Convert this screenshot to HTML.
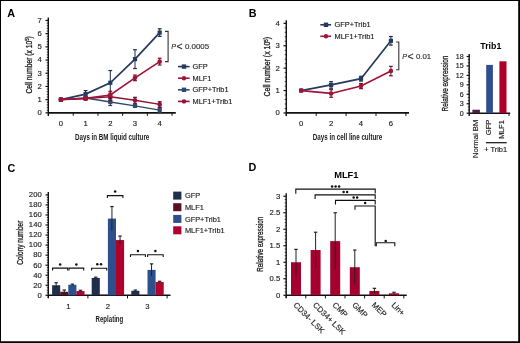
<!DOCTYPE html>
<html><head><meta charset="utf-8"><style>
html,body{margin:0;padding:0;background:#fff;width:520px;height:343px;overflow:hidden}
svg{display:block;font-family:"Liberation Sans",sans-serif;will-change:transform}
</style></head><body>
<svg width="520" height="343" viewBox="0 0 520 343">
<rect x="0" y="0" width="520" height="343" fill="#fff"/>
<rect x="0.5" y="0.5" width="518.5" height="341.5" fill="none" stroke="#000" stroke-width="1"/>
<line x1="519.2" y1="0" x2="519.2" y2="343" stroke="#000" stroke-width="1.6"/>
<line x1="0" y1="342.2" x2="520" y2="342.2" stroke="#000" stroke-width="1.6"/>
<text x="7.2" y="16.9" font-size="10.8" font-weight="bold" fill="#000">A</text>
<text x="248.7" y="16.6" font-size="10.8" font-weight="bold" fill="#000">B</text>
<text x="7.6" y="171.6" font-size="10.8" font-weight="bold" fill="#000">C</text>
<text x="248.4" y="171.2" font-size="10.8" font-weight="bold" fill="#000">D</text>
<line x1="48.3" y1="17.45" x2="48.3" y2="116" stroke="#111" stroke-width="1.4"/>
<line x1="45.5" y1="112.85" x2="48.3" y2="112.85" stroke="#111" stroke-width="1.2"/>
<line x1="45.5" y1="99.65" x2="48.3" y2="99.65" stroke="#111" stroke-width="1.2"/>
<line x1="45.5" y1="86.45" x2="48.3" y2="86.45" stroke="#111" stroke-width="1.2"/>
<line x1="45.5" y1="73.25" x2="48.3" y2="73.25" stroke="#111" stroke-width="1.2"/>
<line x1="45.5" y1="60.05" x2="48.3" y2="60.05" stroke="#111" stroke-width="1.2"/>
<line x1="45.5" y1="46.85" x2="48.3" y2="46.85" stroke="#111" stroke-width="1.2"/>
<line x1="45.5" y1="33.65" x2="48.3" y2="33.65" stroke="#111" stroke-width="1.2"/>
<line x1="45.5" y1="20.45" x2="48.3" y2="20.45" stroke="#111" stroke-width="1.2"/>
<line x1="46.7" y1="110.21" x2="48.3" y2="110.21" stroke="#111" stroke-width="0.8"/>
<line x1="46.7" y1="107.57" x2="48.3" y2="107.57" stroke="#111" stroke-width="0.8"/>
<line x1="46.7" y1="104.93" x2="48.3" y2="104.93" stroke="#111" stroke-width="0.8"/>
<line x1="46.7" y1="102.29" x2="48.3" y2="102.29" stroke="#111" stroke-width="0.8"/>
<line x1="46.7" y1="97.01" x2="48.3" y2="97.01" stroke="#111" stroke-width="0.8"/>
<line x1="46.7" y1="94.37" x2="48.3" y2="94.37" stroke="#111" stroke-width="0.8"/>
<line x1="46.7" y1="91.73" x2="48.3" y2="91.73" stroke="#111" stroke-width="0.8"/>
<line x1="46.7" y1="89.09" x2="48.3" y2="89.09" stroke="#111" stroke-width="0.8"/>
<line x1="46.7" y1="83.81" x2="48.3" y2="83.81" stroke="#111" stroke-width="0.8"/>
<line x1="46.7" y1="81.17" x2="48.3" y2="81.17" stroke="#111" stroke-width="0.8"/>
<line x1="46.7" y1="78.53" x2="48.3" y2="78.53" stroke="#111" stroke-width="0.8"/>
<line x1="46.7" y1="75.89" x2="48.3" y2="75.89" stroke="#111" stroke-width="0.8"/>
<line x1="46.7" y1="70.61" x2="48.3" y2="70.61" stroke="#111" stroke-width="0.8"/>
<line x1="46.7" y1="67.97" x2="48.3" y2="67.97" stroke="#111" stroke-width="0.8"/>
<line x1="46.7" y1="65.33" x2="48.3" y2="65.33" stroke="#111" stroke-width="0.8"/>
<line x1="46.7" y1="62.69" x2="48.3" y2="62.69" stroke="#111" stroke-width="0.8"/>
<line x1="46.7" y1="57.41" x2="48.3" y2="57.41" stroke="#111" stroke-width="0.8"/>
<line x1="46.7" y1="54.77" x2="48.3" y2="54.77" stroke="#111" stroke-width="0.8"/>
<line x1="46.7" y1="52.13" x2="48.3" y2="52.13" stroke="#111" stroke-width="0.8"/>
<line x1="46.7" y1="49.49" x2="48.3" y2="49.49" stroke="#111" stroke-width="0.8"/>
<line x1="46.7" y1="44.21" x2="48.3" y2="44.21" stroke="#111" stroke-width="0.8"/>
<line x1="46.7" y1="41.57" x2="48.3" y2="41.57" stroke="#111" stroke-width="0.8"/>
<line x1="46.7" y1="38.93" x2="48.3" y2="38.93" stroke="#111" stroke-width="0.8"/>
<line x1="46.7" y1="36.29" x2="48.3" y2="36.29" stroke="#111" stroke-width="0.8"/>
<line x1="46.7" y1="31.01" x2="48.3" y2="31.01" stroke="#111" stroke-width="0.8"/>
<line x1="46.7" y1="28.37" x2="48.3" y2="28.37" stroke="#111" stroke-width="0.8"/>
<line x1="46.7" y1="25.73" x2="48.3" y2="25.73" stroke="#111" stroke-width="0.8"/>
<line x1="46.7" y1="23.09" x2="48.3" y2="23.09" stroke="#111" stroke-width="0.8"/>
<line x1="48.3" y1="112.85" x2="175.8" y2="112.85" stroke="#111" stroke-width="1.7"/>
<line x1="48.55" y1="112.85" x2="48.55" y2="115.8" stroke="#111" stroke-width="1"/>
<line x1="73.25" y1="112.85" x2="73.25" y2="115.8" stroke="#111" stroke-width="1"/>
<line x1="97.95" y1="112.85" x2="97.95" y2="115.8" stroke="#111" stroke-width="1"/>
<line x1="122.65" y1="112.85" x2="122.65" y2="115.8" stroke="#111" stroke-width="1"/>
<line x1="147.35" y1="112.85" x2="147.35" y2="115.8" stroke="#111" stroke-width="1"/>
<line x1="172.05" y1="112.85" x2="172.05" y2="115.8" stroke="#111" stroke-width="1"/>
<text x="41.9" y="115.2" font-size="7.7" text-anchor="end" fill="#1c1c1c" stroke="#1c1c1c" stroke-width="0.15">0</text>
<text x="41.9" y="102" font-size="7.7" text-anchor="end" fill="#1c1c1c" stroke="#1c1c1c" stroke-width="0.15">1</text>
<text x="41.9" y="88.8" font-size="7.7" text-anchor="end" fill="#1c1c1c" stroke="#1c1c1c" stroke-width="0.15">2</text>
<text x="41.9" y="75.6" font-size="7.7" text-anchor="end" fill="#1c1c1c" stroke="#1c1c1c" stroke-width="0.15">3</text>
<text x="41.9" y="62.4" font-size="7.7" text-anchor="end" fill="#1c1c1c" stroke="#1c1c1c" stroke-width="0.15">4</text>
<text x="41.9" y="49.2" font-size="7.7" text-anchor="end" fill="#1c1c1c" stroke="#1c1c1c" stroke-width="0.15">5</text>
<text x="41.9" y="36" font-size="7.7" text-anchor="end" fill="#1c1c1c" stroke="#1c1c1c" stroke-width="0.15">6</text>
<text x="41.9" y="22.8" font-size="7.7" text-anchor="end" fill="#1c1c1c" stroke="#1c1c1c" stroke-width="0.15">7</text>
<text x="60.9" y="126" font-size="7.7" text-anchor="middle" fill="#1c1c1c" stroke="#1c1c1c" stroke-width="0.15">0</text>
<text x="85.6" y="126" font-size="7.7" text-anchor="middle" fill="#1c1c1c" stroke="#1c1c1c" stroke-width="0.15">1</text>
<text x="110.3" y="126" font-size="7.7" text-anchor="middle" fill="#1c1c1c" stroke="#1c1c1c" stroke-width="0.15">2</text>
<text x="135" y="126" font-size="7.7" text-anchor="middle" fill="#1c1c1c" stroke="#1c1c1c" stroke-width="0.15">3</text>
<text x="159.7" y="126" font-size="7.7" text-anchor="middle" fill="#1c1c1c" stroke="#1c1c1c" stroke-width="0.15">4</text>
<text x="75" y="139.6" font-size="8.8" font-weight="bold" fill="#1a1a1a" textLength="74.3" lengthAdjust="spacingAndGlyphs">Days in BM liquid culture</text>
<text transform="translate(32,93.5) rotate(-90)" x="0" y="0" font-size="8.6" font-weight="normal" fill="#1a1a1a" stroke="#1a1a1a" stroke-width="0.3" textLength="57.2" lengthAdjust="spacingAndGlyphs">Cell number (x 10<tspan dy="-2.7" font-size="5.4">5</tspan><tspan dy="2.7">)</tspan></text>
<polyline points="60.9,99.65 85.6,98.07 110.3,102.03 135,105.85 159.7,110.08" fill="none" stroke="#2e4a70" stroke-width="1.4" stroke-linejoin="miter"/>
<rect x="58.8" y="97.55" width="4.2" height="4.2" fill="#2e4a70"/>
<line x1="85.6" y1="96.77" x2="85.6" y2="99.37" stroke="#24395a" stroke-width="1"/>
<line x1="83.7" y1="96.77" x2="87.5" y2="96.77" stroke="#24395a" stroke-width="1.2"/>
<line x1="83.7" y1="99.37" x2="87.5" y2="99.37" stroke="#24395a" stroke-width="1.2"/>
<rect x="83.5" y="95.97" width="4.2" height="4.2" fill="#2e4a70"/>
<line x1="110.3" y1="98.53" x2="110.3" y2="105.53" stroke="#24395a" stroke-width="1"/>
<line x1="108.4" y1="98.53" x2="112.2" y2="98.53" stroke="#24395a" stroke-width="1.2"/>
<line x1="108.4" y1="105.53" x2="112.2" y2="105.53" stroke="#24395a" stroke-width="1.2"/>
<rect x="108.2" y="99.93" width="4.2" height="4.2" fill="#2e4a70"/>
<line x1="135" y1="104.55" x2="135" y2="107.15" stroke="#24395a" stroke-width="1"/>
<line x1="133.1" y1="104.55" x2="136.9" y2="104.55" stroke="#24395a" stroke-width="1.2"/>
<line x1="133.1" y1="107.15" x2="136.9" y2="107.15" stroke="#24395a" stroke-width="1.2"/>
<rect x="132.9" y="103.75" width="4.2" height="4.2" fill="#2e4a70"/>
<line x1="159.7" y1="107.58" x2="159.7" y2="112.58" stroke="#24395a" stroke-width="1"/>
<line x1="157.8" y1="107.58" x2="161.6" y2="107.58" stroke="#24395a" stroke-width="1.2"/>
<line x1="157.8" y1="112.58" x2="161.6" y2="112.58" stroke="#24395a" stroke-width="1.2"/>
<rect x="157.6" y="107.98" width="4.2" height="4.2" fill="#2e4a70"/>
<polyline points="60.9,99.65 85.6,94.11 110.3,82.75 135,59.13 159.7,32.59" fill="none" stroke="#263a60" stroke-width="1.7" stroke-linejoin="miter"/>
<rect x="58.8" y="97.55" width="4.2" height="4.2" fill="#263a60"/>
<line x1="85.6" y1="90.61" x2="85.6" y2="97.61" stroke="#1e2c48" stroke-width="1"/>
<line x1="83.7" y1="90.61" x2="87.5" y2="90.61" stroke="#1e2c48" stroke-width="1.2"/>
<line x1="83.7" y1="97.61" x2="87.5" y2="97.61" stroke="#1e2c48" stroke-width="1.2"/>
<rect x="83.5" y="92.01" width="4.2" height="4.2" fill="#263a60"/>
<line x1="110.3" y1="70.55" x2="110.3" y2="94.95" stroke="#1e2c48" stroke-width="1"/>
<line x1="108.4" y1="70.55" x2="112.2" y2="70.55" stroke="#1e2c48" stroke-width="1.2"/>
<line x1="108.4" y1="94.95" x2="112.2" y2="94.95" stroke="#1e2c48" stroke-width="1.2"/>
<rect x="108.2" y="80.65" width="4.2" height="4.2" fill="#263a60"/>
<line x1="135" y1="49.73" x2="135" y2="68.53" stroke="#1e2c48" stroke-width="1"/>
<line x1="133.1" y1="49.73" x2="136.9" y2="49.73" stroke="#1e2c48" stroke-width="1.2"/>
<line x1="133.1" y1="68.53" x2="136.9" y2="68.53" stroke="#1e2c48" stroke-width="1.2"/>
<rect x="132.9" y="57.03" width="4.2" height="4.2" fill="#263a60"/>
<line x1="159.7" y1="28.79" x2="159.7" y2="36.39" stroke="#1e2c48" stroke-width="1"/>
<line x1="157.8" y1="28.79" x2="161.6" y2="28.79" stroke="#1e2c48" stroke-width="1.2"/>
<line x1="157.8" y1="36.39" x2="161.6" y2="36.39" stroke="#1e2c48" stroke-width="1.2"/>
<rect x="157.6" y="30.49" width="4.2" height="4.2" fill="#263a60"/>
<polyline points="60.9,99.65 85.6,98.59 110.3,96.75 135,100.31 159.7,104.4" fill="none" stroke="#901234" stroke-width="1.4" stroke-linejoin="miter"/>
<circle cx="60.9" cy="99.65" r="2.3" fill="#901234"/>
<line x1="85.6" y1="97.29" x2="85.6" y2="99.89" stroke="#650d26" stroke-width="1"/>
<line x1="83.7" y1="97.29" x2="87.5" y2="97.29" stroke="#650d26" stroke-width="1.2"/>
<line x1="83.7" y1="99.89" x2="87.5" y2="99.89" stroke="#650d26" stroke-width="1.2"/>
<circle cx="85.6" cy="98.59" r="2.3" fill="#901234"/>
<line x1="110.3" y1="93.25" x2="110.3" y2="100.25" stroke="#650d26" stroke-width="1"/>
<line x1="108.4" y1="93.25" x2="112.2" y2="93.25" stroke="#650d26" stroke-width="1.2"/>
<line x1="108.4" y1="100.25" x2="112.2" y2="100.25" stroke="#650d26" stroke-width="1.2"/>
<circle cx="110.3" cy="96.75" r="2.3" fill="#901234"/>
<line x1="135" y1="97.31" x2="135" y2="103.31" stroke="#650d26" stroke-width="1"/>
<line x1="133.1" y1="97.31" x2="136.9" y2="97.31" stroke="#650d26" stroke-width="1.2"/>
<line x1="133.1" y1="103.31" x2="136.9" y2="103.31" stroke="#650d26" stroke-width="1.2"/>
<circle cx="135" cy="100.31" r="2.3" fill="#901234"/>
<line x1="159.7" y1="101.7" x2="159.7" y2="107.1" stroke="#650d26" stroke-width="1"/>
<line x1="157.8" y1="101.7" x2="161.6" y2="101.7" stroke="#650d26" stroke-width="1.2"/>
<line x1="157.8" y1="107.1" x2="161.6" y2="107.1" stroke="#650d26" stroke-width="1.2"/>
<circle cx="159.7" cy="104.4" r="2.3" fill="#901234"/>
<polyline points="60.9,99.65 85.6,98.33 110.3,95.03 135,77.87 159.7,61.63" fill="none" stroke="#a01438" stroke-width="1.7" stroke-linejoin="miter"/>
<circle cx="60.9" cy="99.65" r="2.3" fill="#a01438"/>
<line x1="85.6" y1="97.03" x2="85.6" y2="99.63" stroke="#6e0f2a" stroke-width="1"/>
<line x1="83.7" y1="97.03" x2="87.5" y2="97.03" stroke="#6e0f2a" stroke-width="1.2"/>
<line x1="83.7" y1="99.63" x2="87.5" y2="99.63" stroke="#6e0f2a" stroke-width="1.2"/>
<circle cx="85.6" cy="98.33" r="2.3" fill="#a01438"/>
<line x1="110.3" y1="91.23" x2="110.3" y2="98.83" stroke="#6e0f2a" stroke-width="1"/>
<line x1="108.4" y1="91.23" x2="112.2" y2="91.23" stroke="#6e0f2a" stroke-width="1.2"/>
<line x1="108.4" y1="98.83" x2="112.2" y2="98.83" stroke="#6e0f2a" stroke-width="1.2"/>
<circle cx="110.3" cy="95.03" r="2.3" fill="#a01438"/>
<line x1="135" y1="75.07" x2="135" y2="80.67" stroke="#6e0f2a" stroke-width="1"/>
<line x1="133.1" y1="75.07" x2="136.9" y2="75.07" stroke="#6e0f2a" stroke-width="1.2"/>
<line x1="133.1" y1="80.67" x2="136.9" y2="80.67" stroke="#6e0f2a" stroke-width="1.2"/>
<circle cx="135" cy="77.87" r="2.3" fill="#a01438"/>
<line x1="159.7" y1="58.23" x2="159.7" y2="65.03" stroke="#6e0f2a" stroke-width="1"/>
<line x1="157.8" y1="58.23" x2="161.6" y2="58.23" stroke="#6e0f2a" stroke-width="1.2"/>
<line x1="157.8" y1="65.03" x2="161.6" y2="65.03" stroke="#6e0f2a" stroke-width="1.2"/>
<circle cx="159.7" cy="61.63" r="2.3" fill="#a01438"/>
<polyline points="165,31.4 168.1,31.4 168.1,61.6 165,61.6" fill="none" stroke="#333" stroke-width="1.1" stroke-linejoin="miter"/>
<text x="171.3" y="48.9" font-size="7.2" font-style="italic" fill="#333" stroke="#333" stroke-width="0.15">P</text>
<text x="176.6" y="50.3" font-size="10.4" fill="#333" stroke="#333" stroke-width="0.15">&lt;</text>
<text x="184.9" y="48.9" font-size="7" textLength="24.3" lengthAdjust="spacingAndGlyphs" fill="#333" stroke="#333" stroke-width="0.15">0.0005</text>
<line x1="178" y1="66.6" x2="189.6" y2="66.6" stroke="#263a60" stroke-width="1.6"/>
<rect x="181.8" y="64.4" width="4.4" height="4.4" fill="#263a60"/>
<text x="192.5" y="69.2" font-size="7.4" fill="#1c1c1c" stroke="#1c1c1c" stroke-width="0.15">GFP</text>
<line x1="178" y1="78.2" x2="189.6" y2="78.2" stroke="#a01438" stroke-width="1.6"/>
<circle cx="184" cy="78.2" r="2.2" fill="#a01438"/>
<text x="192.5" y="80.8" font-size="7.4" fill="#1c1c1c" stroke="#1c1c1c" stroke-width="0.15">MLF1</text>
<line x1="178" y1="89.8" x2="189.6" y2="89.8" stroke="#2e4a70" stroke-width="1.6"/>
<rect x="181.8" y="87.6" width="4.4" height="4.4" fill="#2e4a70"/>
<text x="192.5" y="92.4" font-size="7.4" fill="#1c1c1c" stroke="#1c1c1c" stroke-width="0.15">GFP+Trib1</text>
<line x1="178" y1="101.4" x2="189.6" y2="101.4" stroke="#901234" stroke-width="1.6"/>
<circle cx="184" cy="101.4" r="2.2" fill="#901234"/>
<text x="192.5" y="104" font-size="7.4" fill="#1c1c1c" stroke="#1c1c1c" stroke-width="0.15">MLF1+Trib1</text>
<line x1="286.3" y1="20.35" x2="286.3" y2="116" stroke="#111" stroke-width="1.4"/>
<line x1="283.5" y1="112.95" x2="286.3" y2="112.95" stroke="#111" stroke-width="1.2"/>
<line x1="283.5" y1="90.55" x2="286.3" y2="90.55" stroke="#111" stroke-width="1.2"/>
<line x1="283.5" y1="68.15" x2="286.3" y2="68.15" stroke="#111" stroke-width="1.2"/>
<line x1="283.5" y1="45.75" x2="286.3" y2="45.75" stroke="#111" stroke-width="1.2"/>
<line x1="283.5" y1="23.35" x2="286.3" y2="23.35" stroke="#111" stroke-width="1.2"/>
<line x1="284.7" y1="108.47" x2="286.3" y2="108.47" stroke="#111" stroke-width="0.8"/>
<line x1="284.7" y1="103.99" x2="286.3" y2="103.99" stroke="#111" stroke-width="0.8"/>
<line x1="284.7" y1="99.51" x2="286.3" y2="99.51" stroke="#111" stroke-width="0.8"/>
<line x1="284.7" y1="95.03" x2="286.3" y2="95.03" stroke="#111" stroke-width="0.8"/>
<line x1="284.7" y1="86.07" x2="286.3" y2="86.07" stroke="#111" stroke-width="0.8"/>
<line x1="284.7" y1="81.59" x2="286.3" y2="81.59" stroke="#111" stroke-width="0.8"/>
<line x1="284.7" y1="77.11" x2="286.3" y2="77.11" stroke="#111" stroke-width="0.8"/>
<line x1="284.7" y1="72.63" x2="286.3" y2="72.63" stroke="#111" stroke-width="0.8"/>
<line x1="284.7" y1="63.67" x2="286.3" y2="63.67" stroke="#111" stroke-width="0.8"/>
<line x1="284.7" y1="59.19" x2="286.3" y2="59.19" stroke="#111" stroke-width="0.8"/>
<line x1="284.7" y1="54.71" x2="286.3" y2="54.71" stroke="#111" stroke-width="0.8"/>
<line x1="284.7" y1="50.23" x2="286.3" y2="50.23" stroke="#111" stroke-width="0.8"/>
<line x1="284.7" y1="41.27" x2="286.3" y2="41.27" stroke="#111" stroke-width="0.8"/>
<line x1="284.7" y1="36.79" x2="286.3" y2="36.79" stroke="#111" stroke-width="0.8"/>
<line x1="284.7" y1="32.31" x2="286.3" y2="32.31" stroke="#111" stroke-width="0.8"/>
<line x1="284.7" y1="27.83" x2="286.3" y2="27.83" stroke="#111" stroke-width="0.8"/>
<line x1="286.3" y1="112.95" x2="409" y2="112.95" stroke="#111" stroke-width="1.7"/>
<line x1="286.3" y1="112.95" x2="286.3" y2="116" stroke="#111" stroke-width="1"/>
<line x1="316.2" y1="112.95" x2="316.2" y2="116" stroke="#111" stroke-width="1"/>
<line x1="346.1" y1="112.95" x2="346.1" y2="116" stroke="#111" stroke-width="1"/>
<line x1="376" y1="112.95" x2="376" y2="116" stroke="#111" stroke-width="1"/>
<line x1="405.9" y1="112.95" x2="405.9" y2="116" stroke="#111" stroke-width="1"/>
<text x="279.9" y="115.3" font-size="7.7" text-anchor="end" fill="#1c1c1c" stroke="#1c1c1c" stroke-width="0.15">0</text>
<text x="279.9" y="92.9" font-size="7.7" text-anchor="end" fill="#1c1c1c" stroke="#1c1c1c" stroke-width="0.15">1</text>
<text x="279.9" y="70.5" font-size="7.7" text-anchor="end" fill="#1c1c1c" stroke="#1c1c1c" stroke-width="0.15">2</text>
<text x="279.9" y="48.1" font-size="7.7" text-anchor="end" fill="#1c1c1c" stroke="#1c1c1c" stroke-width="0.15">3</text>
<text x="279.9" y="25.7" font-size="7.7" text-anchor="end" fill="#1c1c1c" stroke="#1c1c1c" stroke-width="0.15">4</text>
<text x="301.2" y="126" font-size="7.7" text-anchor="middle" fill="#1c1c1c" stroke="#1c1c1c" stroke-width="0.15">0</text>
<text x="331.1" y="126" font-size="7.7" text-anchor="middle" fill="#1c1c1c" stroke="#1c1c1c" stroke-width="0.15">2</text>
<text x="361" y="126" font-size="7.7" text-anchor="middle" fill="#1c1c1c" stroke="#1c1c1c" stroke-width="0.15">4</text>
<text x="390.9" y="126" font-size="7.7" text-anchor="middle" fill="#1c1c1c" stroke="#1c1c1c" stroke-width="0.15">6</text>
<text x="312.8" y="140" font-size="8.8" font-weight="bold" fill="#1a1a1a" textLength="69.4" lengthAdjust="spacingAndGlyphs">Days in cell line culture</text>
<text transform="translate(270.2,96.4) rotate(-90)" x="0" y="0" font-size="8.6" font-weight="normal" fill="#1a1a1a" stroke="#1a1a1a" stroke-width="0.3" textLength="59.4" lengthAdjust="spacingAndGlyphs">Cell number (x 10<tspan dy="-2.7" font-size="5.4">5</tspan><tspan dy="2.7">)</tspan></text>
<polyline points="301.2,90.55 331.1,84.95 361,78.68 390.9,40.82" fill="none" stroke="#263a60" stroke-width="1.7" stroke-linejoin="miter"/>
<rect x="299.1" y="88.45" width="4.2" height="4.2" fill="#263a60"/>
<line x1="331.1" y1="81.65" x2="331.1" y2="88.25" stroke="#1e2c48" stroke-width="1"/>
<line x1="329.2" y1="81.65" x2="333" y2="81.65" stroke="#1e2c48" stroke-width="1.2"/>
<line x1="329.2" y1="88.25" x2="333" y2="88.25" stroke="#1e2c48" stroke-width="1.2"/>
<rect x="329" y="82.85" width="4.2" height="4.2" fill="#263a60"/>
<line x1="361" y1="76.28" x2="361" y2="81.08" stroke="#1e2c48" stroke-width="1"/>
<line x1="359.1" y1="76.28" x2="362.9" y2="76.28" stroke="#1e2c48" stroke-width="1.2"/>
<line x1="359.1" y1="81.08" x2="362.9" y2="81.08" stroke="#1e2c48" stroke-width="1.2"/>
<rect x="358.9" y="76.58" width="4.2" height="4.2" fill="#263a60"/>
<line x1="390.9" y1="36.52" x2="390.9" y2="45.12" stroke="#1e2c48" stroke-width="1"/>
<line x1="389" y1="36.52" x2="392.8" y2="36.52" stroke="#1e2c48" stroke-width="1.2"/>
<line x1="389" y1="45.12" x2="392.8" y2="45.12" stroke="#1e2c48" stroke-width="1.2"/>
<rect x="388.8" y="38.72" width="4.2" height="4.2" fill="#263a60"/>
<polyline points="301.2,90.55 331.1,93.46 361,86.07 390.9,71.06" fill="none" stroke="#a01438" stroke-width="1.7" stroke-linejoin="miter"/>
<circle cx="301.2" cy="90.55" r="2.3" fill="#a01438"/>
<line x1="331.1" y1="89.66" x2="331.1" y2="97.26" stroke="#6e0f2a" stroke-width="1"/>
<line x1="329.2" y1="89.66" x2="333" y2="89.66" stroke="#6e0f2a" stroke-width="1.2"/>
<line x1="329.2" y1="97.26" x2="333" y2="97.26" stroke="#6e0f2a" stroke-width="1.2"/>
<circle cx="331.1" cy="93.46" r="2.3" fill="#a01438"/>
<line x1="361" y1="83.47" x2="361" y2="88.67" stroke="#6e0f2a" stroke-width="1"/>
<line x1="359.1" y1="83.47" x2="362.9" y2="83.47" stroke="#6e0f2a" stroke-width="1.2"/>
<line x1="359.1" y1="88.67" x2="362.9" y2="88.67" stroke="#6e0f2a" stroke-width="1.2"/>
<circle cx="361" cy="86.07" r="2.3" fill="#a01438"/>
<line x1="390.9" y1="66.36" x2="390.9" y2="75.76" stroke="#6e0f2a" stroke-width="1"/>
<line x1="389" y1="66.36" x2="392.8" y2="66.36" stroke="#6e0f2a" stroke-width="1.2"/>
<line x1="389" y1="75.76" x2="392.8" y2="75.76" stroke="#6e0f2a" stroke-width="1.2"/>
<circle cx="390.9" cy="71.06" r="2.3" fill="#a01438"/>
<polyline points="396.1,42 398.8,42 398.8,69.7 396.1,69.7" fill="none" stroke="#333" stroke-width="1.1" stroke-linejoin="miter"/>
<text x="402.3" y="58.5" font-size="7.2" font-style="italic" fill="#333" stroke="#333" stroke-width="0.15">P</text>
<text x="407.6" y="59.9" font-size="10.4" fill="#333" stroke="#333" stroke-width="0.15">&lt;</text>
<text x="415.9" y="58.5" font-size="7" textLength="15.3" lengthAdjust="spacingAndGlyphs" fill="#333" stroke="#333" stroke-width="0.15">0.01</text>
<line x1="320.3" y1="24.8" x2="331.1" y2="24.8" stroke="#263a60" stroke-width="1.6"/>
<rect x="323.8" y="22.6" width="4.4" height="4.4" fill="#263a60"/>
<text x="334.6" y="27.4" font-size="7.4" fill="#1c1c1c" stroke="#1c1c1c" stroke-width="0.15">GFP+Trib1</text>
<line x1="320.3" y1="36.3" x2="331.1" y2="36.3" stroke="#a01438" stroke-width="1.6"/>
<circle cx="326" cy="36.3" r="2.2" fill="#a01438"/>
<text x="334.6" y="38.9" font-size="7.4" fill="#1c1c1c" stroke="#1c1c1c" stroke-width="0.15">MLF1+Trib1</text>
<line x1="469.2" y1="53.9" x2="469.2" y2="116" stroke="#111" stroke-width="1.4"/>
<line x1="466.6" y1="113.2" x2="469.2" y2="113.2" stroke="#111" stroke-width="1.2"/>
<line x1="466.6" y1="103.75" x2="469.2" y2="103.75" stroke="#111" stroke-width="1.2"/>
<line x1="466.6" y1="94.3" x2="469.2" y2="94.3" stroke="#111" stroke-width="1.2"/>
<line x1="466.6" y1="84.85" x2="469.2" y2="84.85" stroke="#111" stroke-width="1.2"/>
<line x1="466.6" y1="75.4" x2="469.2" y2="75.4" stroke="#111" stroke-width="1.2"/>
<line x1="466.6" y1="65.95" x2="469.2" y2="65.95" stroke="#111" stroke-width="1.2"/>
<line x1="466.6" y1="56.5" x2="469.2" y2="56.5" stroke="#111" stroke-width="1.2"/>
<line x1="467.8" y1="110.05" x2="469.2" y2="110.05" stroke="#111" stroke-width="0.8"/>
<line x1="467.8" y1="106.9" x2="469.2" y2="106.9" stroke="#111" stroke-width="0.8"/>
<line x1="467.8" y1="100.6" x2="469.2" y2="100.6" stroke="#111" stroke-width="0.8"/>
<line x1="467.8" y1="97.45" x2="469.2" y2="97.45" stroke="#111" stroke-width="0.8"/>
<line x1="467.8" y1="91.15" x2="469.2" y2="91.15" stroke="#111" stroke-width="0.8"/>
<line x1="467.8" y1="88" x2="469.2" y2="88" stroke="#111" stroke-width="0.8"/>
<line x1="467.8" y1="81.7" x2="469.2" y2="81.7" stroke="#111" stroke-width="0.8"/>
<line x1="467.8" y1="78.55" x2="469.2" y2="78.55" stroke="#111" stroke-width="0.8"/>
<line x1="467.8" y1="72.25" x2="469.2" y2="72.25" stroke="#111" stroke-width="0.8"/>
<line x1="467.8" y1="69.1" x2="469.2" y2="69.1" stroke="#111" stroke-width="0.8"/>
<line x1="467.8" y1="62.8" x2="469.2" y2="62.8" stroke="#111" stroke-width="0.8"/>
<line x1="467.8" y1="59.65" x2="469.2" y2="59.65" stroke="#111" stroke-width="0.8"/>
<line x1="469.2" y1="113.2" x2="510.2" y2="113.2" stroke="#111" stroke-width="1.6"/>
<line x1="509" y1="113.2" x2="509" y2="116" stroke="#111" stroke-width="1"/>
<text x="463.6" y="115.7" font-size="7.1" text-anchor="end" fill="#1c1c1c" stroke="#1c1c1c" stroke-width="0.15">0</text>
<text x="463.6" y="106.25" font-size="7.1" text-anchor="end" fill="#1c1c1c" stroke="#1c1c1c" stroke-width="0.15">3</text>
<text x="463.6" y="96.8" font-size="7.1" text-anchor="end" fill="#1c1c1c" stroke="#1c1c1c" stroke-width="0.15">6</text>
<text x="463.6" y="87.35" font-size="7.1" text-anchor="end" fill="#1c1c1c" stroke="#1c1c1c" stroke-width="0.15">9</text>
<text x="463.6" y="77.9" font-size="7.1" text-anchor="end" fill="#1c1c1c" stroke="#1c1c1c" stroke-width="0.15">12</text>
<text x="463.6" y="68.45" font-size="7.1" text-anchor="end" fill="#1c1c1c" stroke="#1c1c1c" stroke-width="0.15">15</text>
<text x="463.6" y="59" font-size="7.1" text-anchor="end" fill="#1c1c1c" stroke="#1c1c1c" stroke-width="0.15">18</text>
<rect x="472.4" y="109.73" width="7.5" height="3.47" fill="#4e1d48"/>
<rect x="486.2" y="64.9" width="6.7" height="48.3" fill="#2d508d"/>
<rect x="499.4" y="61.3" width="7.1" height="51.9" fill="#b0002a"/>
<text x="480.3" y="48.6" font-size="8.5" font-weight="bold" textLength="21" lengthAdjust="spacingAndGlyphs" fill="#000">Trib1</text>
<text transform="translate(448.3,111.4) rotate(-90)" x="0" y="0" font-size="8.6" font-weight="normal" fill="#1a1a1a" stroke="#1a1a1a" stroke-width="0.3" textLength="55.8" lengthAdjust="spacingAndGlyphs">Relative expression</text>
<text transform="translate(477.6,119.7) rotate(-90)" x="0" y="0" font-size="7.1" text-anchor="end" textLength="38.3" lengthAdjust="spacingAndGlyphs" fill="#1c1c1c" stroke="#1c1c1c" stroke-width="0.15">Normal BM</text>
<text transform="translate(491.2,119.7) rotate(-90)" x="0" y="0" font-size="7.1" text-anchor="end" textLength="15.5" lengthAdjust="spacingAndGlyphs" fill="#1c1c1c" stroke="#1c1c1c" stroke-width="0.15">GFP</text>
<text transform="translate(504.3,120.3) rotate(-90)" x="0" y="0" font-size="7.1" text-anchor="end" textLength="18.4" lengthAdjust="spacingAndGlyphs" fill="#1c1c1c" stroke="#1c1c1c" stroke-width="0.15">MLF1</text>
<line x1="485.9" y1="142.7" x2="506.7" y2="142.7" stroke="#111" stroke-width="1.2"/>
<text x="484.2" y="152.3" font-size="7.1" textLength="22.9" lengthAdjust="spacingAndGlyphs" fill="#1c1c1c" stroke="#1c1c1c" stroke-width="0.15">+ Trib1</text>
<line x1="48.3" y1="191.9" x2="48.3" y2="298" stroke="#111" stroke-width="1.4"/>
<line x1="45.5" y1="295.3" x2="48.3" y2="295.3" stroke="#111" stroke-width="1.2"/>
<line x1="45.5" y1="285.26" x2="48.3" y2="285.26" stroke="#111" stroke-width="1.2"/>
<line x1="45.5" y1="275.22" x2="48.3" y2="275.22" stroke="#111" stroke-width="1.2"/>
<line x1="45.5" y1="265.18" x2="48.3" y2="265.18" stroke="#111" stroke-width="1.2"/>
<line x1="45.5" y1="255.14" x2="48.3" y2="255.14" stroke="#111" stroke-width="1.2"/>
<line x1="45.5" y1="245.1" x2="48.3" y2="245.1" stroke="#111" stroke-width="1.2"/>
<line x1="45.5" y1="235.06" x2="48.3" y2="235.06" stroke="#111" stroke-width="1.2"/>
<line x1="45.5" y1="225.02" x2="48.3" y2="225.02" stroke="#111" stroke-width="1.2"/>
<line x1="45.5" y1="214.98" x2="48.3" y2="214.98" stroke="#111" stroke-width="1.2"/>
<line x1="45.5" y1="204.94" x2="48.3" y2="204.94" stroke="#111" stroke-width="1.2"/>
<line x1="45.5" y1="194.9" x2="48.3" y2="194.9" stroke="#111" stroke-width="1.2"/>
<line x1="46.8" y1="292.79" x2="48.3" y2="292.79" stroke="#111" stroke-width="0.8"/>
<line x1="46.8" y1="290.28" x2="48.3" y2="290.28" stroke="#111" stroke-width="0.8"/>
<line x1="46.8" y1="287.77" x2="48.3" y2="287.77" stroke="#111" stroke-width="0.8"/>
<line x1="46.8" y1="282.75" x2="48.3" y2="282.75" stroke="#111" stroke-width="0.8"/>
<line x1="46.8" y1="280.24" x2="48.3" y2="280.24" stroke="#111" stroke-width="0.8"/>
<line x1="46.8" y1="277.73" x2="48.3" y2="277.73" stroke="#111" stroke-width="0.8"/>
<line x1="46.8" y1="272.71" x2="48.3" y2="272.71" stroke="#111" stroke-width="0.8"/>
<line x1="46.8" y1="270.2" x2="48.3" y2="270.2" stroke="#111" stroke-width="0.8"/>
<line x1="46.8" y1="267.69" x2="48.3" y2="267.69" stroke="#111" stroke-width="0.8"/>
<line x1="46.8" y1="262.67" x2="48.3" y2="262.67" stroke="#111" stroke-width="0.8"/>
<line x1="46.8" y1="260.16" x2="48.3" y2="260.16" stroke="#111" stroke-width="0.8"/>
<line x1="46.8" y1="257.65" x2="48.3" y2="257.65" stroke="#111" stroke-width="0.8"/>
<line x1="46.8" y1="252.63" x2="48.3" y2="252.63" stroke="#111" stroke-width="0.8"/>
<line x1="46.8" y1="250.12" x2="48.3" y2="250.12" stroke="#111" stroke-width="0.8"/>
<line x1="46.8" y1="247.61" x2="48.3" y2="247.61" stroke="#111" stroke-width="0.8"/>
<line x1="46.8" y1="242.59" x2="48.3" y2="242.59" stroke="#111" stroke-width="0.8"/>
<line x1="46.8" y1="240.08" x2="48.3" y2="240.08" stroke="#111" stroke-width="0.8"/>
<line x1="46.8" y1="237.57" x2="48.3" y2="237.57" stroke="#111" stroke-width="0.8"/>
<line x1="46.8" y1="232.55" x2="48.3" y2="232.55" stroke="#111" stroke-width="0.8"/>
<line x1="46.8" y1="230.04" x2="48.3" y2="230.04" stroke="#111" stroke-width="0.8"/>
<line x1="46.8" y1="227.53" x2="48.3" y2="227.53" stroke="#111" stroke-width="0.8"/>
<line x1="46.8" y1="222.51" x2="48.3" y2="222.51" stroke="#111" stroke-width="0.8"/>
<line x1="46.8" y1="220" x2="48.3" y2="220" stroke="#111" stroke-width="0.8"/>
<line x1="46.8" y1="217.49" x2="48.3" y2="217.49" stroke="#111" stroke-width="0.8"/>
<line x1="46.8" y1="212.47" x2="48.3" y2="212.47" stroke="#111" stroke-width="0.8"/>
<line x1="46.8" y1="209.96" x2="48.3" y2="209.96" stroke="#111" stroke-width="0.8"/>
<line x1="46.8" y1="207.45" x2="48.3" y2="207.45" stroke="#111" stroke-width="0.8"/>
<line x1="46.8" y1="202.43" x2="48.3" y2="202.43" stroke="#111" stroke-width="0.8"/>
<line x1="46.8" y1="199.92" x2="48.3" y2="199.92" stroke="#111" stroke-width="0.8"/>
<line x1="46.8" y1="197.41" x2="48.3" y2="197.41" stroke="#111" stroke-width="0.8"/>
<line x1="48.3" y1="295.3" x2="170.5" y2="295.3" stroke="#111" stroke-width="1.6"/>
<line x1="48.3" y1="295.3" x2="48.3" y2="298.4" stroke="#111" stroke-width="1"/>
<line x1="87.9" y1="295.3" x2="87.9" y2="298.4" stroke="#111" stroke-width="1"/>
<line x1="127.5" y1="295.3" x2="127.5" y2="298.4" stroke="#111" stroke-width="1"/>
<line x1="167.1" y1="295.3" x2="167.1" y2="298.4" stroke="#111" stroke-width="1"/>
<text x="41.7" y="297.65" font-size="7.7" text-anchor="end" fill="#1c1c1c" stroke="#1c1c1c" stroke-width="0.15">0</text>
<text x="41.7" y="287.61" font-size="7.7" text-anchor="end" fill="#1c1c1c" stroke="#1c1c1c" stroke-width="0.15">20</text>
<text x="41.7" y="277.57" font-size="7.7" text-anchor="end" fill="#1c1c1c" stroke="#1c1c1c" stroke-width="0.15">40</text>
<text x="41.7" y="267.53" font-size="7.7" text-anchor="end" fill="#1c1c1c" stroke="#1c1c1c" stroke-width="0.15">60</text>
<text x="41.7" y="257.49" font-size="7.7" text-anchor="end" fill="#1c1c1c" stroke="#1c1c1c" stroke-width="0.15">80</text>
<text x="41.7" y="247.45" font-size="7.7" text-anchor="end" fill="#1c1c1c" stroke="#1c1c1c" stroke-width="0.15">100</text>
<text x="41.7" y="237.41" font-size="7.7" text-anchor="end" fill="#1c1c1c" stroke="#1c1c1c" stroke-width="0.15">120</text>
<text x="41.7" y="227.37" font-size="7.7" text-anchor="end" fill="#1c1c1c" stroke="#1c1c1c" stroke-width="0.15">140</text>
<text x="41.7" y="217.33" font-size="7.7" text-anchor="end" fill="#1c1c1c" stroke="#1c1c1c" stroke-width="0.15">160</text>
<text x="41.7" y="207.29" font-size="7.7" text-anchor="end" fill="#1c1c1c" stroke="#1c1c1c" stroke-width="0.15">180</text>
<text x="41.7" y="197.25" font-size="7.7" text-anchor="end" fill="#1c1c1c" stroke="#1c1c1c" stroke-width="0.15">200</text>
<rect x="52.1" y="285.26" width="8.1" height="10.04" fill="#1f2e4b"/>
<line x1="56.15" y1="282.75" x2="56.15" y2="287.77" stroke="#222" stroke-width="1"/>
<line x1="54.45" y1="282.75" x2="57.85" y2="282.75" stroke="#222" stroke-width="1.2"/>
<rect x="60.2" y="291.79" width="8.1" height="3.51" fill="#5b0f24"/>
<line x1="64.25" y1="290.03" x2="64.25" y2="293.54" stroke="#222" stroke-width="1"/>
<line x1="62.55" y1="290.03" x2="65.95" y2="290.03" stroke="#222" stroke-width="1.2"/>
<rect x="68.3" y="284.76" width="8.1" height="10.54" fill="#2d508d"/>
<line x1="72.35" y1="284.16" x2="72.35" y2="285.36" stroke="#222" stroke-width="1"/>
<line x1="70.65" y1="284.16" x2="74.05" y2="284.16" stroke="#222" stroke-width="1.2"/>
<rect x="76.4" y="291.03" width="8.1" height="4.27" fill="#b0002c"/>
<line x1="80.45" y1="290.28" x2="80.45" y2="291.79" stroke="#222" stroke-width="1"/>
<line x1="78.75" y1="290.28" x2="82.15" y2="290.28" stroke="#222" stroke-width="1.2"/>
<rect x="91.7" y="277.93" width="8.1" height="17.37" fill="#1f2e4b"/>
<line x1="95.75" y1="277.18" x2="95.75" y2="278.68" stroke="#222" stroke-width="1"/>
<line x1="94.05" y1="277.18" x2="97.45" y2="277.18" stroke="#222" stroke-width="1.2"/>
<rect x="99.8" y="294.8" width="8.1" height="0.5" fill="#5b0f24"/>
<rect x="107.9" y="218.59" width="8.1" height="76.71" fill="#2d508d"/>
<line x1="111.95" y1="206.55" x2="111.95" y2="230.64" stroke="#222" stroke-width="1"/>
<line x1="110.25" y1="206.55" x2="113.65" y2="206.55" stroke="#222" stroke-width="1.2"/>
<rect x="116" y="240.08" width="8.1" height="55.22" fill="#b0002c"/>
<line x1="120.05" y1="236.06" x2="120.05" y2="244.1" stroke="#222" stroke-width="1"/>
<line x1="118.35" y1="236.06" x2="121.75" y2="236.06" stroke="#222" stroke-width="1.2"/>
<rect x="131.3" y="290.78" width="8.1" height="4.52" fill="#1f2e4b"/>
<line x1="135.35" y1="290.03" x2="135.35" y2="291.54" stroke="#222" stroke-width="1"/>
<line x1="133.65" y1="290.03" x2="137.05" y2="290.03" stroke="#222" stroke-width="1.2"/>
<rect x="147.5" y="269.9" width="8.1" height="25.4" fill="#2d508d"/>
<line x1="151.55" y1="263.87" x2="151.55" y2="275.92" stroke="#222" stroke-width="1"/>
<line x1="149.85" y1="263.87" x2="153.25" y2="263.87" stroke="#222" stroke-width="1.2"/>
<rect x="155.6" y="282.05" width="8.1" height="13.25" fill="#b0002c"/>
<line x1="159.65" y1="281.29" x2="159.65" y2="282.8" stroke="#222" stroke-width="1"/>
<line x1="157.95" y1="281.29" x2="161.35" y2="281.29" stroke="#222" stroke-width="1.2"/>
<text x="68.3" y="308.7" font-size="7.7" text-anchor="middle" fill="#1c1c1c" stroke="#1c1c1c" stroke-width="0.15">1</text>
<text x="107.9" y="308.7" font-size="7.7" text-anchor="middle" fill="#1c1c1c" stroke="#1c1c1c" stroke-width="0.15">2</text>
<text x="147.5" y="308.7" font-size="7.7" text-anchor="middle" fill="#1c1c1c" stroke="#1c1c1c" stroke-width="0.15">3</text>
<text x="95.6" y="321.7" font-size="8.8" font-weight="bold" fill="#1a1a1a" textLength="27.7" lengthAdjust="spacingAndGlyphs">Replating</text>
<text transform="translate(23.1,264.7) rotate(-90)" x="0" y="0" font-size="8.6" font-weight="normal" fill="#1a1a1a" stroke="#1a1a1a" stroke-width="0.3" textLength="44.1" lengthAdjust="spacingAndGlyphs">Colony number</text>
<polyline points="52.6,270.5 52.6,268.1 67.7,268.1 67.7,270.5" fill="none" stroke="#111" stroke-width="1.1" stroke-linejoin="miter"/>
<circle cx="60.15" cy="264.4" r="1.25" fill="#111"/>
<polyline points="69,270.5 69,268.1 83.7,268.1 83.7,270.5" fill="none" stroke="#111" stroke-width="1.1" stroke-linejoin="miter"/>
<circle cx="76.35" cy="264.4" r="1.25" fill="#111"/>
<polyline points="91.6,270.6 91.6,268.2 106.7,268.2 106.7,270.6" fill="none" stroke="#111" stroke-width="1.1" stroke-linejoin="miter"/>
<circle cx="97.3" cy="264.3" r="1.25" fill="#111"/>
<circle cx="101" cy="264.3" r="1.25" fill="#111"/>
<polyline points="107.4,198 107.4,195.6 122.9,195.6 122.9,198" fill="none" stroke="#111" stroke-width="1.1" stroke-linejoin="miter"/>
<circle cx="115.15" cy="191.4" r="1.25" fill="#111"/>
<polyline points="130.5,257.1 130.5,254.7 145.4,254.7 145.4,257.1" fill="none" stroke="#111" stroke-width="1.1" stroke-linejoin="miter"/>
<circle cx="137.95" cy="251" r="1.25" fill="#111"/>
<polyline points="147.6,257.1 147.6,254.7 163.2,254.7 163.2,257.1" fill="none" stroke="#111" stroke-width="1.1" stroke-linejoin="miter"/>
<circle cx="155.4" cy="251" r="1.25" fill="#111"/>
<rect x="173.2" y="191.6" width="8.2" height="8" fill="#1f2e4b"/>
<text x="184.9" y="198.2" font-size="7.4" fill="#1c1c1c" stroke="#1c1c1c" stroke-width="0.15">GFP</text>
<rect x="173.2" y="203.2" width="8.2" height="8" fill="#5b0f24"/>
<text x="184.9" y="209.8" font-size="7.4" fill="#1c1c1c" stroke="#1c1c1c" stroke-width="0.15">MLF1</text>
<rect x="173.2" y="214.9" width="8.2" height="8" fill="#2d508d"/>
<text x="184.9" y="221.5" font-size="7.4" fill="#1c1c1c" stroke="#1c1c1c" stroke-width="0.15">GFP+Trib1</text>
<rect x="173.2" y="226.3" width="8.2" height="8" fill="#b0002c"/>
<text x="184.9" y="232.9" font-size="7.4" fill="#1c1c1c" stroke="#1c1c1c" stroke-width="0.15">MLF1+Trib1</text>
<line x1="286.2" y1="193.25" x2="286.2" y2="298" stroke="#111" stroke-width="1.4"/>
<line x1="283.4" y1="295.25" x2="286.2" y2="295.25" stroke="#111" stroke-width="1.2"/>
<line x1="283.4" y1="278.75" x2="286.2" y2="278.75" stroke="#111" stroke-width="1.2"/>
<line x1="283.4" y1="262.25" x2="286.2" y2="262.25" stroke="#111" stroke-width="1.2"/>
<line x1="283.4" y1="245.75" x2="286.2" y2="245.75" stroke="#111" stroke-width="1.2"/>
<line x1="283.4" y1="229.25" x2="286.2" y2="229.25" stroke="#111" stroke-width="1.2"/>
<line x1="283.4" y1="212.75" x2="286.2" y2="212.75" stroke="#111" stroke-width="1.2"/>
<line x1="283.4" y1="196.25" x2="286.2" y2="196.25" stroke="#111" stroke-width="1.2"/>
<line x1="284.7" y1="291.95" x2="286.2" y2="291.95" stroke="#111" stroke-width="0.8"/>
<line x1="284.7" y1="288.65" x2="286.2" y2="288.65" stroke="#111" stroke-width="0.8"/>
<line x1="284.7" y1="285.35" x2="286.2" y2="285.35" stroke="#111" stroke-width="0.8"/>
<line x1="284.7" y1="282.05" x2="286.2" y2="282.05" stroke="#111" stroke-width="0.8"/>
<line x1="284.7" y1="275.45" x2="286.2" y2="275.45" stroke="#111" stroke-width="0.8"/>
<line x1="284.7" y1="272.15" x2="286.2" y2="272.15" stroke="#111" stroke-width="0.8"/>
<line x1="284.7" y1="268.85" x2="286.2" y2="268.85" stroke="#111" stroke-width="0.8"/>
<line x1="284.7" y1="265.55" x2="286.2" y2="265.55" stroke="#111" stroke-width="0.8"/>
<line x1="284.7" y1="258.95" x2="286.2" y2="258.95" stroke="#111" stroke-width="0.8"/>
<line x1="284.7" y1="255.65" x2="286.2" y2="255.65" stroke="#111" stroke-width="0.8"/>
<line x1="284.7" y1="252.35" x2="286.2" y2="252.35" stroke="#111" stroke-width="0.8"/>
<line x1="284.7" y1="249.05" x2="286.2" y2="249.05" stroke="#111" stroke-width="0.8"/>
<line x1="284.7" y1="242.45" x2="286.2" y2="242.45" stroke="#111" stroke-width="0.8"/>
<line x1="284.7" y1="239.15" x2="286.2" y2="239.15" stroke="#111" stroke-width="0.8"/>
<line x1="284.7" y1="235.85" x2="286.2" y2="235.85" stroke="#111" stroke-width="0.8"/>
<line x1="284.7" y1="232.55" x2="286.2" y2="232.55" stroke="#111" stroke-width="0.8"/>
<line x1="284.7" y1="225.95" x2="286.2" y2="225.95" stroke="#111" stroke-width="0.8"/>
<line x1="284.7" y1="222.65" x2="286.2" y2="222.65" stroke="#111" stroke-width="0.8"/>
<line x1="284.7" y1="219.35" x2="286.2" y2="219.35" stroke="#111" stroke-width="0.8"/>
<line x1="284.7" y1="216.05" x2="286.2" y2="216.05" stroke="#111" stroke-width="0.8"/>
<line x1="284.7" y1="209.45" x2="286.2" y2="209.45" stroke="#111" stroke-width="0.8"/>
<line x1="284.7" y1="206.15" x2="286.2" y2="206.15" stroke="#111" stroke-width="0.8"/>
<line x1="284.7" y1="202.85" x2="286.2" y2="202.85" stroke="#111" stroke-width="0.8"/>
<line x1="284.7" y1="199.55" x2="286.2" y2="199.55" stroke="#111" stroke-width="0.8"/>
<line x1="286.2" y1="295.25" x2="406.8" y2="295.25" stroke="#111" stroke-width="1.6"/>
<line x1="286.2" y1="295.25" x2="286.2" y2="298.4" stroke="#111" stroke-width="1"/>
<line x1="305.8" y1="295.25" x2="305.8" y2="298.4" stroke="#111" stroke-width="1"/>
<line x1="325.4" y1="295.25" x2="325.4" y2="298.4" stroke="#111" stroke-width="1"/>
<line x1="345" y1="295.25" x2="345" y2="298.4" stroke="#111" stroke-width="1"/>
<line x1="364.6" y1="295.25" x2="364.6" y2="298.4" stroke="#111" stroke-width="1"/>
<line x1="384.2" y1="295.25" x2="384.2" y2="298.4" stroke="#111" stroke-width="1"/>
<line x1="403.8" y1="295.25" x2="403.8" y2="298.4" stroke="#111" stroke-width="1"/>
<text x="280.2" y="297.6" font-size="7.7" text-anchor="end" fill="#1c1c1c" stroke="#1c1c1c" stroke-width="0.15">0</text>
<text x="280.2" y="281.1" font-size="7.7" text-anchor="end" fill="#1c1c1c" stroke="#1c1c1c" stroke-width="0.15">0.5</text>
<text x="280.2" y="264.6" font-size="7.7" text-anchor="end" fill="#1c1c1c" stroke="#1c1c1c" stroke-width="0.15">1</text>
<text x="280.2" y="248.1" font-size="7.7" text-anchor="end" fill="#1c1c1c" stroke="#1c1c1c" stroke-width="0.15">1.5</text>
<text x="280.2" y="231.6" font-size="7.7" text-anchor="end" fill="#1c1c1c" stroke="#1c1c1c" stroke-width="0.15">2</text>
<text x="280.2" y="215.1" font-size="7.7" text-anchor="end" fill="#1c1c1c" stroke="#1c1c1c" stroke-width="0.15">2.5</text>
<text x="280.2" y="198.6" font-size="7.7" text-anchor="end" fill="#1c1c1c" stroke="#1c1c1c" stroke-width="0.15">3</text>
<rect x="291" y="262.25" width="10" height="33" fill="#a5002e"/>
<line x1="296" y1="249.38" x2="296" y2="275.12" stroke="#222" stroke-width="1"/>
<line x1="294.3" y1="249.38" x2="297.7" y2="249.38" stroke="#222" stroke-width="1.2"/>
<rect x="310.6" y="250.04" width="10" height="45.21" fill="#a5002e"/>
<line x1="315.6" y1="232.22" x2="315.6" y2="267.86" stroke="#222" stroke-width="1"/>
<line x1="313.9" y1="232.22" x2="317.3" y2="232.22" stroke="#222" stroke-width="1.2"/>
<rect x="330.2" y="241.13" width="10" height="54.12" fill="#a5002e"/>
<line x1="335.2" y1="212.75" x2="335.2" y2="269.51" stroke="#222" stroke-width="1"/>
<line x1="333.5" y1="212.75" x2="336.9" y2="212.75" stroke="#222" stroke-width="1.2"/>
<rect x="349.8" y="267.2" width="10" height="28.05" fill="#a5002e"/>
<line x1="354.8" y1="250.04" x2="354.8" y2="284.36" stroke="#222" stroke-width="1"/>
<line x1="353.1" y1="250.04" x2="356.5" y2="250.04" stroke="#222" stroke-width="1.2"/>
<rect x="369.4" y="290.96" width="10" height="4.29" fill="#a5002e"/>
<line x1="374.4" y1="288.32" x2="374.4" y2="293.6" stroke="#222" stroke-width="1"/>
<line x1="372.7" y1="288.32" x2="376.1" y2="288.32" stroke="#222" stroke-width="1.2"/>
<rect x="389" y="293.27" width="10" height="1.98" fill="#a5002e"/>
<line x1="394" y1="292.28" x2="394" y2="294.26" stroke="#222" stroke-width="1"/>
<line x1="392.3" y1="292.28" x2="395.7" y2="292.28" stroke="#222" stroke-width="1.2"/>
<text x="334.2" y="178.1" font-size="8.5" font-weight="bold" textLength="24.3" lengthAdjust="spacingAndGlyphs" fill="#000">MLF1</text>
<text transform="translate(263.1,271.7) rotate(-90)" x="0" y="0" font-size="8.6" font-weight="normal" fill="#1a1a1a" stroke="#1a1a1a" stroke-width="0.3" textLength="55" lengthAdjust="spacingAndGlyphs">Relative expression</text>
<polyline points="295.8,193.8 295.8,189.1 375.2,189.1 375.2,193.6" fill="none" stroke="#111" stroke-width="1.1" stroke-linejoin="miter"/>
<polyline points="315.1,199 315.1,194.9 375.2,194.9 375.2,199" fill="none" stroke="#111" stroke-width="1.1" stroke-linejoin="miter"/>
<polyline points="335.5,204.5 335.5,200.4 375.2,200.4 375.2,204.4" fill="none" stroke="#111" stroke-width="1.1" stroke-linejoin="miter"/>
<polyline points="355,209.8 355,206 375.2,206 375.2,246.3" fill="none" stroke="#111" stroke-width="1.1" stroke-linejoin="miter"/>
<polyline points="376.3,246.2 376.3,242.7 394.8,242.7 394.8,246.2" fill="none" stroke="#111" stroke-width="1.1" stroke-linejoin="miter"/>
<circle cx="332.1" cy="186.4" r="1.25" fill="#111"/>
<circle cx="335.6" cy="186.4" r="1.25" fill="#111"/>
<circle cx="339.1" cy="186.4" r="1.25" fill="#111"/>
<circle cx="343.65" cy="191.9" r="1.25" fill="#111"/>
<circle cx="347.15" cy="191.9" r="1.25" fill="#111"/>
<circle cx="353.65" cy="197.5" r="1.25" fill="#111"/>
<circle cx="357.15" cy="197.5" r="1.25" fill="#111"/>
<circle cx="365.1" cy="203.1" r="1.25" fill="#111"/>
<circle cx="385.7" cy="240.9" r="1.25" fill="#111"/>
<text transform="translate(292.9,305.4) rotate(45)" x="0" y="0" font-size="7.9" fill="#1c1c1c" stroke="#1c1c1c" stroke-width="0.15">CD34- LSK</text>
<text transform="translate(312.5,305.4) rotate(45)" x="0" y="0" font-size="7.9" fill="#1c1c1c" stroke="#1c1c1c" stroke-width="0.15">CD34+ LSK</text>
<text transform="translate(332.1,305.4) rotate(45)" x="0" y="0" font-size="7.9" fill="#1c1c1c" stroke="#1c1c1c" stroke-width="0.15">CMP</text>
<text transform="translate(351.7,305.4) rotate(45)" x="0" y="0" font-size="7.9" fill="#1c1c1c" stroke="#1c1c1c" stroke-width="0.15">GMP</text>
<text transform="translate(371.3,305.4) rotate(45)" x="0" y="0" font-size="7.9" fill="#1c1c1c" stroke="#1c1c1c" stroke-width="0.15">MEP</text>
<text transform="translate(390.9,305.4) rotate(45)" x="0" y="0" font-size="7.9" fill="#1c1c1c" stroke="#1c1c1c" stroke-width="0.15">Lin+</text>
</svg>
</body></html>
